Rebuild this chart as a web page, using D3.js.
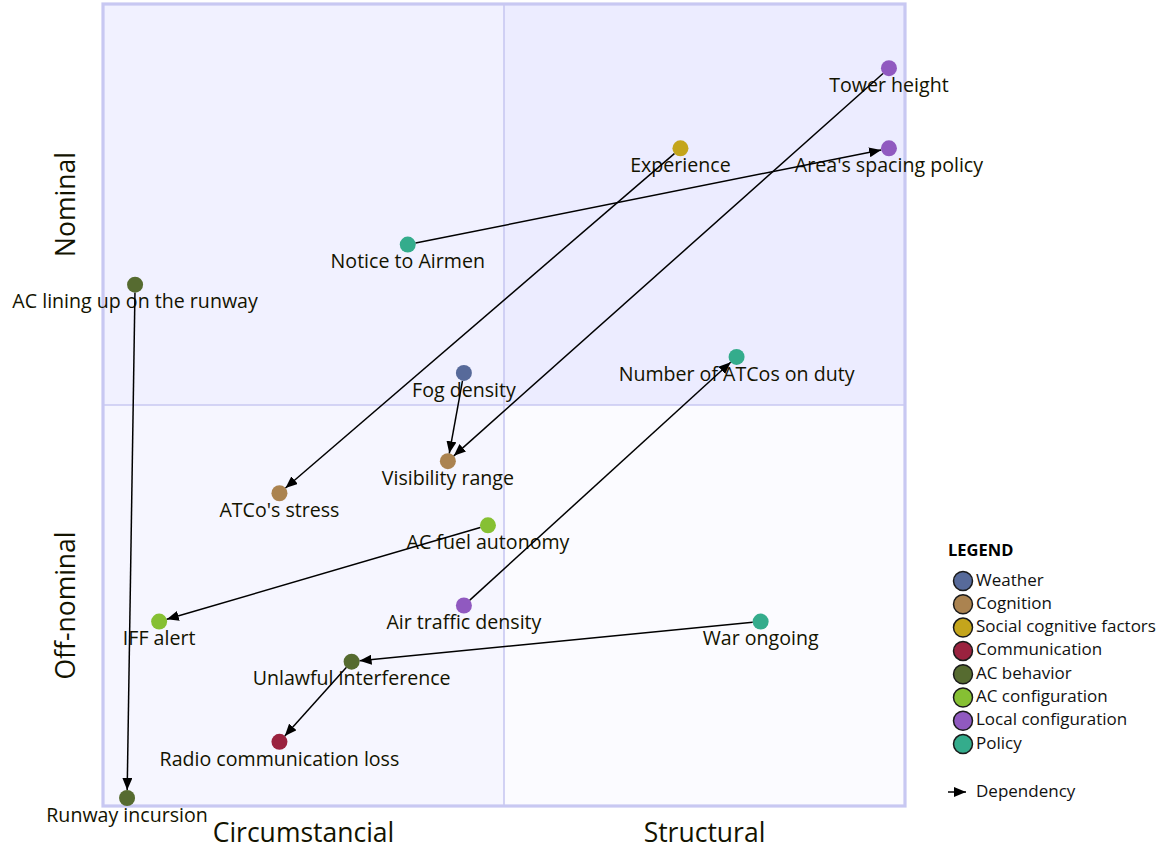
<!DOCTYPE html>
<html>
<head>
<meta charset="utf-8">
<script src="https://cdn.jsdelivr.net/npm/d3@7"></script>
<style>
  body { margin: 0; background: #fff; }
  svg { display: block; }
</style>
</head>
<body>
<div id="chart"></div>
<script>
// categories and their colours
var categories = ["Weather", "Cognition", "Social cognitive factors", "Communication",
                  "AC behavior", "AC configuration", "Local configuration", "Policy"];
var categoryColors = ["#576a9a", "#ab8350", "#c4a51c", "#9a223f",
                      "#566b30", "#86c033", "#9059c0", "#34ac8c"];

// points (x, y in 0..1)
var pointNames = ["Tower height", "Area's spacing policy", "Experience", "Notice to Airmen",
                  "AC lining up on the runway", "Number of ATCos on duty", "Fog density",
                  "Visibility range", "ATCo's stress", "AC fuel autonomy", "Air traffic density",
                  "IFF alert", "War ongoing", "Unlawful interference", "Radio communication loss",
                  "Runway incursion"];
var pointX = [0.98, 0.98, 0.72, 0.38, 0.04, 0.79, 0.45, 0.43, 0.22, 0.48, 0.45, 0.07, 0.82, 0.31, 0.22, 0.03];
var pointY = [0.92, 0.82, 0.82, 0.70, 0.65, 0.56, 0.54, 0.43, 0.39, 0.35, 0.25, 0.23, 0.23, 0.18, 0.08, 0.01];
var pointCategory = ["Local configuration", "Local configuration", "Social cognitive factors", "Policy",
                     "AC behavior", "Policy", "Weather", "Cognition", "Cognition", "AC configuration",
                     "Local configuration", "AC configuration", "Policy", "AC behavior", "Communication",
                     "AC behavior"];

// dependencies (source -> target)
var depSource = ["Notice to Airmen", "Experience", "Tower height", "Fog density",
                 "AC lining up on the runway", "Air traffic density", "AC fuel autonomy",
                 "War ongoing", "Unlawful interference"];
var depTarget = ["Area's spacing policy", "ATCo's stress", "Visibility range", "Visibility range",
                 "Runway incursion", "Number of ATCos on duty", "IFF alert",
                 "Unlawful interference", "Radio communication loss"];

var xAxisLabels = ["Circumstancial", "Structural"];
var yAxisLabels = ["Off-nominal", "Nominal"];

function drawChart() {

    var width = 1162, height = 851;
    var plot = {left: 103, top: 4, size: 802};
    var r = 8;
    var labelFont = "'Open Sans', Lato, sans-serif";

    var svg = d3.select("#chart").append("svg")
        .attr("width", width)
        .attr("height", height);

    var x = d3.scaleLinear().domain([0, 1]).range([plot.left, plot.left + plot.size]);
    var y = d3.scaleLinear().domain([0, 1]).range([plot.top + plot.size, plot.top]);
    var color = d3.scaleOrdinal().domain(categories).range(categoryColors);

    // quadrants
    var quads = [
        {x0: 0, y0: 0.5, fill: "#f1f1ff"},
        {x0: 0.5, y0: 0.5, fill: "#ececff"},
        {x0: 0, y0: 0, fill: "#f6f6ff"},
        {x0: 0.5, y0: 0, fill: "#fbfbff"}
    ];
    svg.append("g").selectAll("rect")
        .data(quads)
        .join("rect")
        .attr("x", d => x(d.x0))
        .attr("y", d => y(d.y0 + 0.5))
        .attr("width", x(0.5) - x(0))
        .attr("height", y(0) - y(0.5))
        .attr("fill", d => d.fill);

    // borders
    svg.append("line")
        .attr("x1", x(0.5)).attr("x2", x(0.5))
        .attr("y1", y(0)).attr("y2", y(1))
        .attr("stroke", "#c8c8f2").attr("stroke-width", 1.6);
    svg.append("line")
        .attr("x1", x(0)).attr("x2", x(1))
        .attr("y1", y(0.5)).attr("y2", y(0.5))
        .attr("stroke", "#c8c8f2").attr("stroke-width", 1.6);
    svg.append("rect")
        .attr("x", x(0)).attr("y", y(1))
        .attr("width", x(1) - x(0)).attr("height", y(0) - y(1))
        .attr("fill", "none")
        .attr("stroke", "#c8c8f2").attr("stroke-width", 3.2);

    // axis labels
    svg.append("g").selectAll("text")
        .data(xAxisLabels)
        .join("text")
        .attr("x", (d, i) => x(0.25 + i * 0.5))
        .attr("y", y(0) + 29)
        .attr("text-anchor", "middle")
        .attr("dominant-baseline", "middle")
        .attr("font-family", labelFont)
        .attr("font-size", 26.5)
        .attr("fill", "#131300")
        .text(d => d);

    svg.append("g").selectAll("text")
        .data(yAxisLabels)
        .join("text")
        .attr("transform", (d, i) => "translate(68," + y(0.25 + i * 0.5) + ") rotate(-90)")
        .attr("text-anchor", "middle")
        .attr("dominant-baseline", "middle")
        .attr("font-family", labelFont)
        .attr("font-size", 26.5)
        .attr("fill", "#131300")
        .text(d => d);

    var points = pointNames.map(function(n, i) {
        return {name: n, x: pointX[i], y: pointY[i], cat: pointCategory[i]};
    });
    var byName = {};
    points.forEach(function(p) { byName[p.name] = p; });

    // points
    svg.append("g").selectAll("circle")
        .data(points)
        .join("circle")
        .attr("cx", d => x(d.x))
        .attr("cy", d => y(d.y))
        .attr("r", r)
        .attr("fill", d => color(d.cat));

    svg.append("g").selectAll("text")
        .data(points)
        .join("text")
        .attr("x", d => x(d.x))
        .attr("y", d => y(d.y) + 18.5)
        .attr("text-anchor", "middle")
        .attr("dominant-baseline", "middle")
        .attr("font-family", labelFont)
        .attr("font-size", 19.6)
        .attr("fill", "#131300")
        .text(d => d.name);

    // arrow marker
    svg.append("defs").append("marker")
        .attr("id", "arrow")
        .attr("markerUnits", "userSpaceOnUse")
        .attr("viewBox", "0 0 12 10")
        .attr("refX", 12).attr("refY", 5)
        .attr("markerWidth", 12).attr("markerHeight", 10)
        .attr("orient", "auto")
        .append("path")
        .attr("d", "M0,0 L12,5 L0,10 z")
        .attr("fill", "#000");

    // dependencies
    var deps = depSource.map(function(s, i) {
        var a = byName[s], b = byName[depTarget[i]];
        var x1 = x(a.x), y1 = y(a.y), x2 = x(b.x), y2 = y(b.y);
        var len = Math.sqrt((x2 - x1) * (x2 - x1) + (y2 - y1) * (y2 - y1));
        var ux = (x2 - x1) / len, uy = (y2 - y1) / len;
        return {x1: x1 + ux * r, y1: y1 + uy * r, x2: x2 - ux * r, y2: y2 - uy * r};
    });
    svg.append("g").selectAll("line")
        .data(deps)
        .join("line")
        .attr("x1", d => d.x1).attr("y1", d => d.y1)
        .attr("x2", d => d.x2).attr("y2", d => d.y2)
        .attr("stroke", "#000")
        .attr("stroke-width", 1.5)
        .attr("marker-end", "url(#arrow)");

    // legend
    var legend = svg.append("g").attr("transform", "translate(948,552)");
    var legendFont = "'Open Sans', Lato, sans-serif";
    legend.append("text")
        .attr("x", 0).attr("y", 0)
        .attr("dominant-baseline", "middle")
        .attr("font-family", legendFont)
        .attr("font-weight", "bold")
        .attr("font-size", 16.5)
        .attr("fill", "#000")
        .text("LEGEND");

    var items = legend.selectAll("g.item")
        .data(categories)
        .join("g")
        .attr("class", "item")
        .attr("transform", (d, i) => "translate(0," + (29 + i * 23.3) + ")");
    items.append("circle")
        .attr("cx", 15).attr("cy", 0).attr("r", 9.5)
        .attr("fill", d => color(d))
        .attr("stroke", "#1a1a1a").attr("stroke-width", 1.5);
    items.append("text")
        .attr("x", 28).attr("y", 0)
        .attr("dominant-baseline", "middle")
        .attr("font-family", legendFont)
        .attr("font-size", 17)
        .attr("fill", "#111")
        .text(d => d);

    var dep = legend.append("g").attr("transform", "translate(0,240)");
    dep.append("line")
        .attr("x1", 0).attr("x2", 18).attr("y1", 0).attr("y2", 0)
        .attr("stroke", "#000").attr("stroke-width", 1.5)
        .attr("marker-end", "url(#arrow)");
    dep.append("text")
        .attr("x", 28).attr("y", 0)
        .attr("dominant-baseline", "middle")
        .attr("font-family", legendFont)
        .attr("font-size", 17)
        .attr("fill", "#111")
        .text("Dependency");
}

drawChart();
</script>
</body>
</html>
